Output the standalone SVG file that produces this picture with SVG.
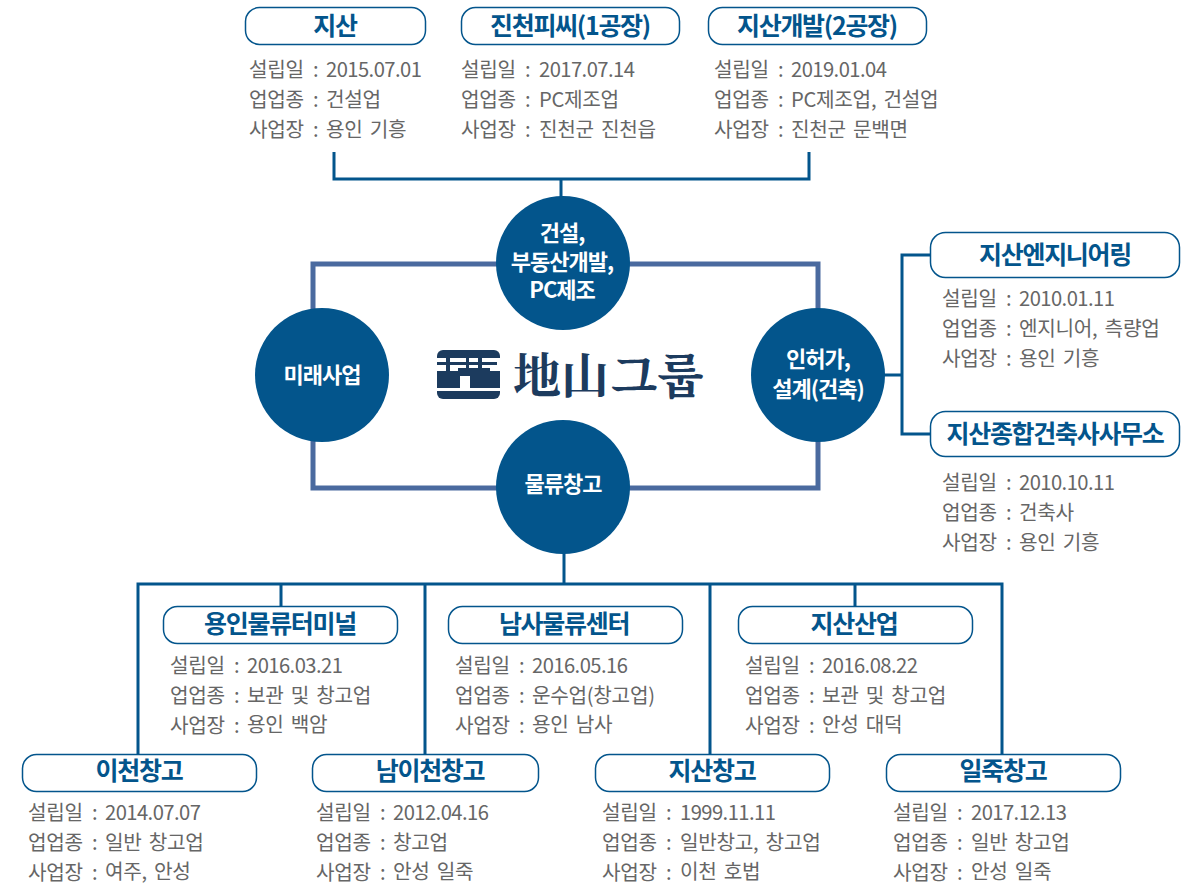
<svg xmlns="http://www.w3.org/2000/svg" width="1187" height="887" viewBox="0 0 1187 887">
<style>
text{font-family:"Noto Sans CJK KR","Noto Sans",sans-serif}
.box{fill:#fff;stroke:#03558c;stroke-width:1.5}
.t{font-size:25px;font-weight:700;fill:#03558c;text-anchor:middle;letter-spacing:-1.3px}
.b{font-size:20.2px;fill:#666;letter-spacing:-.3px;word-spacing:3px}
.d{letter-spacing:-.55px}
.c{fill:#03558c}
.w{font-size:22px;font-weight:700;fill:#fff;text-anchor:middle;letter-spacing:-1px}
.ln{fill:none;stroke:#03558c;stroke-width:3}
.frame{fill:none;stroke:#4a6a9f;stroke-width:5}
.logo{font-family:"Noto Serif CJK KR","Noto Sans CJK KR",serif;font-size:48px;font-weight:700;fill:#1c3b5e}
</style>
<defs>
<g id="lines"><text class="b" x="0" y="0">설립일</text><text class="b" x="0" y="30">업업종</text><text class="b" x="0" y="60">사업장</text><text class="b" x="64" y="0">:</text><text class="b" x="64" y="30">:</text><text class="b" x="64" y="60">:</text></g>
</defs>
<g id="connectors">
<rect class="frame" x="313" y="264" width="505" height="224"/>
<path class="ln" d="M334 152V179H809V152M561 179V200"/>
<path class="ln" d="M882 375H902M930 255H902V434H930"/>
<path class="ln" d="M564 550V584M138 754V584H1002V754M281 584V606M425 584V754M710 584V754M855 584V606"/>
</g>
<g id="c1"><circle class="c" cx="563" cy="263" r="67"/><text class="w" x="562" y="241">건설,</text><text class="w" x="562" y="270">부동산개발,</text><text class="w" x="562" y="298">PC제조</text></g>
<g id="c2"><circle class="c" cx="322" cy="375" r="67"/><text class="w" x="322" y="383">미래사업</text></g>
<g id="c3"><circle class="c" cx="818" cy="375" r="67"/><text class="w" x="818" y="367">인허가,</text><text class="w" x="818" y="397">설계(건축)</text></g>
<g id="c4"><circle class="c" cx="563" cy="487" r="67"/><text class="w" x="563" y="492">물류창고</text></g>
<g id="logo">
<rect x="437" y="350" width="63" height="49" rx="6" fill="#1c3b5e"/>
<path d="M437 358H500V371H437ZM437 388H500V391H437ZM460 376H470V388H460Z" fill="#fff"/>
<path d="M437 362H497V365H437ZM446 354H450V376H446ZM466 355H469V372H466ZM478 355H482V372H478ZM458 368H490V372H458Z" fill="#1c3b5e"/>
<text class="logo" x="513" y="393">地山</text>
<text class="logo" x="611" y="393">그룹</text>
</g>
<g id="n1"><rect class="box" x="245.500" y="7.500" width="180" height="37" rx="14"/><text class="t" x="335" y="35">지산</text><use href="#lines" x="249" y="77"/><text class="b d" x="326" y="77">2015.07.01</text><text class="b" x="326" y="107">건설업</text><text class="b" x="326" y="137">용인 기흥</text></g>
<g id="n2"><rect class="box" x="461.500" y="7.500" width="218" height="37" rx="14"/><text class="t" x="570" y="35">진천피씨(1공장)</text><use href="#lines" x="461" y="77"/><text class="b d" x="539" y="77">2017.07.14</text><text class="b" x="539" y="107">PC제조업</text><text class="b" x="539" y="137">진천군 진천읍</text></g>
<g id="n3"><rect class="box" x="708.500" y="7.500" width="218" height="37" rx="14"/><text class="t" x="817" y="35">지산개발(2공장)</text><use href="#lines" x="714" y="77"/><text class="b d" x="791" y="77">2019.01.04</text><text class="b" x="791" y="107">PC제조업, 건설업</text><text class="b" x="791" y="137">진천군 문백면</text></g>
<g id="n4"><rect class="box" x="930.500" y="232.500" width="249" height="45" rx="15"/><text class="t" x="1055" y="264">지산엔지니어링</text><use href="#lines" x="942" y="306"/><text class="b d" x="1019" y="306">2010.01.11</text><text class="b" x="1019" y="336">엔지니어, 측량업</text><text class="b" x="1019" y="366">용인 기흥</text></g>
<g id="n5"><rect class="box" x="930.500" y="411.500" width="249" height="45" rx="15"/><text class="t" x="1055" y="443">지산종합건축사사무소</text><use href="#lines" x="942" y="490"/><text class="b d" x="1019" y="490">2010.10.11</text><text class="b" x="1019" y="520">건축사</text><text class="b" x="1019" y="550">용인 기흥</text></g>
<g id="n6"><rect class="box" x="163.500" y="606.500" width="234" height="37" rx="14"/><text class="t" x="280" y="633">용인물류터미널</text><use href="#lines" x="170" y="673"/><text class="b d" x="247" y="673">2016.03.21</text><text class="b" x="247" y="703">보관 및 창고업</text><text class="b" x="247" y="732">용인 백암</text></g>
<g id="n7"><rect class="box" x="448.500" y="606.500" width="234" height="37" rx="14"/><text class="t" x="564" y="633">남사물류센터</text><use href="#lines" x="455" y="673"/><text class="b d" x="532" y="673">2016.05.16</text><text class="b" x="532" y="703">운수업(창고업)</text><text class="b" x="532" y="732">용인 남사</text></g>
<g id="n8"><rect class="box" x="738.500" y="606.500" width="234" height="37" rx="14"/><text class="t" x="854" y="633">지산산업</text><use href="#lines" x="745" y="673"/><text class="b d" x="822" y="673">2016.08.22</text><text class="b" x="822" y="703">보관 및 창고업</text><text class="b" x="822" y="732">안성 대덕</text></g>
<g id="n9"><rect class="box" x="22.500" y="754.500" width="234" height="37" rx="14"/><text class="t" x="139" y="780">이천창고</text><use href="#lines" x="28" y="820"/><text class="b d" x="105" y="820">2014.07.07</text><text class="b" x="105" y="850">일반 창고업</text><text class="b" x="105" y="879">여주, 안성</text></g>
<g id="n10"><rect class="box" x="312.500" y="754.500" width="226" height="37" rx="14"/><text class="t" x="430" y="780">남이천창고</text><use href="#lines" x="316" y="820"/><text class="b d" x="393" y="820">2012.04.16</text><text class="b" x="393" y="850">창고업</text><text class="b" x="393" y="879">안성 일죽</text></g>
<g id="n11"><rect class="box" x="595.500" y="754.500" width="234" height="37" rx="14"/><text class="t" x="712" y="780">지산창고</text><use href="#lines" x="602" y="820"/><text class="b d" x="680" y="820">1999.11.11</text><text class="b" x="680" y="850">일반창고, 창고업</text><text class="b" x="680" y="879">이천 호법</text></g>
<g id="n12"><rect class="box" x="886.500" y="754.500" width="234" height="37" rx="14"/><text class="t" x="1003" y="780">일죽창고</text><use href="#lines" x="893" y="820"/><text class="b d" x="971" y="820">2017.12.13</text><text class="b" x="971" y="850">일반 창고업</text><text class="b" x="971" y="879">안성 일죽</text></g>
</svg>
